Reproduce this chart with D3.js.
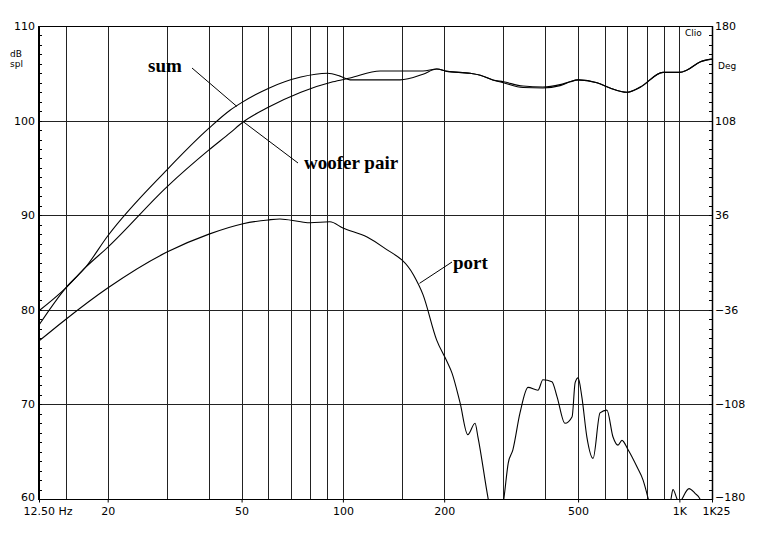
<!DOCTYPE html>
<html>
<head>
  <meta charset="utf-8">
  <title>woofer pair / port / sum</title>
  <style>
    body { margin: 0; background: #fff; }
    .axis text { font-family: "DejaVu Sans", sans-serif; font-size: 11px; fill: #000; }
    .note { font-family: "Liberation Serif", serif; font-weight: bold; font-size: 19px; fill: #000; }
    .small { font-family: "DejaVu Sans", sans-serif; font-size: 9px; fill: #000; }
  </style>
</head>
<body>
<script src="https://d3js.org/d3.v7.min.js"></script>
<script>
  var width = 765;
  var height = 535;
  var x0 = 39, x1 = 712, y0 = 26, y1 = 499;

  // data (Hz, dB spl)
  var freqSum = [12.5, 15, 17.2, 20, 30, 40, 46.2, 50, 60, 75, 90, 98, 105, 118, 148, 173, 190,
                 204, 239, 256, 279, 300, 343, 393, 442, 473, 500, 569, 622, 699, 764, 894, 1000, 1054, 1151, 1250];
  var dbSum = [78.4, 82.3, 84.5, 87.8, 94.8, 99.2, 101.1, 101.9, 103.4, 104.6, 105.0, 104.7, 104.3, 104.3, 104.3, 104.9, 105.45,
               105.2, 105.0, 104.8, 104.3, 104.1, 103.65, 103.55, 103.8, 104.1, 104.3, 104.0, 103.45, 103.0, 103.55, 105.1, 105.1, 105.35, 106.2, 106.5];

  var freqWoofer = [12.5, 15, 17.2, 20, 30, 40, 46.2, 50.5, 60, 75, 93.4, 105, 129, 173, 190,
                    204, 239, 256, 279, 300, 343, 393, 442, 473, 500, 569, 622, 699, 764, 894, 1000, 1054, 1151, 1250];
  var dbWoofer = [79.9, 82.3, 84.5, 86.6, 93.0, 96.9, 98.7, 99.85, 101.4, 103.0, 104.1, 104.5, 105.25, 105.25, 105.45,
                  105.2, 105.0, 104.8, 104.3, 104.0, 103.5, 103.45, 103.7, 104.1, 104.3, 104.0, 103.45, 103.0, 103.5, 105.1, 105.1, 105.35, 106.2, 106.5];

  var freqPort = [12.5, 14.9, 20, 30, 40, 50.5, 60, 65, 75, 80, 91.5, 100, 118, 132, 162, 173, 190,
                  204, 211, 223, 235, 247, 252, 270, 285, 301, 310, 320, 336, 355, 380, 393, 418, 433, 457, 480,
                  490, 500, 513, 531, 554, 581, 609, 635, 657, 675, 704, 748, 780, 807, 856, 944, 957, 984,
                  1000, 1018, 1068, 1113, 1151, 1187, 1250];
  var dbPort = [76.7, 78.9, 82.3, 86.1, 88.0, 89.1, 89.5, 89.6, 89.3, 89.2, 89.3, 88.65, 87.7, 86.6, 83.7, 81.6, 76.8,
                74.5, 73.3, 70.15, 66.8, 68.0, 66.55, 60.1, 56, 60.1, 63.8, 65.2, 69.1, 71.8, 71.5, 72.6, 72.4, 70.8, 68.0, 68.7,
                72.3, 72.8, 70.8, 66.55, 64.3, 69.1, 69.4, 66.55, 65.7, 66.2, 65.2, 63.4, 62.0, 60.1, 56, 60.0, 61.0, 60.0,
                59.5, 60.0, 61.1, 60.6, 60.0, 58, 57];

  var gridFreqs = [15, 20, 30, 40, 50, 60, 70, 80, 90, 100, 150, 200, 300, 400, 500, 600, 700, 800, 900, 1000];
  var gridDb = [70, 80, 90, 100];
  var xTicks = [12.5, 20, 50, 100, 200, 500, 1000, 1250];
  var xLabels = ['12.50 Hz', '20', '50', '100', '200', '500', '1K', '1K25'];
  var yTicks = [60, 70, 80, 90, 100, 110];
  var degTicks = [-180, -108, -36, 36, 108, 180];

  var svg = d3.select('body')
    .append('svg')
      .attr('width', width)
      .attr('height', height);

  var x = d3.scaleLog().domain([12.5, 1250]).range([x0, x1]);
  var y = d3.scaleLinear().domain([60, 110]).range([y1, y0]);
  var yDeg = d3.scaleLinear().domain([-180, 180]).range([y1, y0]);

  // grid
  svg.append('g')
    .attr('transform', 'translate(0,' + y1 + ')')
    .call(d3.axisBottom(x).tickValues(gridFreqs).tickSize(-(y1 - y0)).tickFormat(''))
    .call(function(g) {
      g.select('.domain').remove();
      g.selectAll('line').attr('stroke', '#222').attr('shape-rendering', 'crispEdges');
    });

  svg.append('g')
    .attr('transform', 'translate(' + x0 + ',0)')
    .call(d3.axisRight(y).tickValues(gridDb).tickSize(x1 - x0).tickFormat(''))
    .call(function(g) {
      g.select('.domain').remove();
      g.selectAll('line').attr('stroke', '#222').attr('shape-rendering', 'crispEdges');
    });

  // frame
  svg.append('rect')
    .attr('x', x0 + 0.5).attr('y', y0 + 0.5)
    .attr('width', x1 - x0).attr('height', y1 - y0)
    .attr('fill', 'none').attr('stroke', '#000').attr('shape-rendering', 'crispEdges');

  // minor ticks inside the frame
  svg.append('g')
    .attr('transform', 'translate(' + x0 + ',0)')
    .call(d3.axisRight(y).tickValues(d3.range(60, 110.5, 1)).tickSize(3).tickFormat(''))
    .call(function(g) {
      g.select('.domain').remove();
      g.selectAll('line').attr('stroke', '#000').attr('shape-rendering', 'crispEdges');
    });

  svg.append('g')
    .attr('transform', 'translate(' + x1 + ',0)')
    .call(d3.axisLeft(yDeg).tickValues(d3.range(-180, 180.1, 7.2)).tickSize(3).tickFormat(''))
    .call(function(g) {
      g.select('.domain').remove();
      g.selectAll('line').attr('stroke', '#000').attr('shape-rendering', 'crispEdges');
    });

  // thicker left and right axis lines
  svg.append('line')
    .attr('x1', x0).attr('x2', x0).attr('y1', y0).attr('y2', y1 + 1)
    .attr('stroke', '#000').attr('stroke-width', 2);
  svg.append('line')
    .attr('x1', x1 + 0.5).attr('x2', x1 + 0.5).attr('y1', y0).attr('y2', y1 + 1)
    .attr('stroke', '#000').attr('stroke-width', 1.5);

  // axes with labels
  var xAxis = svg.append('g')
    .attr('class', 'axis')
    .attr('transform', 'translate(0,' + (y1 + 0.5) + ')')
    .call(d3.axisBottom(x).tickValues(xTicks).tickSize(3).tickPadding(5)
      .tickFormat(function(d, i) { return xLabels[i]; }));
  xAxis.select('.domain').remove();
  xAxis.selectAll('text')
    .attr('text-anchor', function(d, i) { return i === 0 ? 'start' : 'middle'; })
    .attr('dx', function(d, i) { return i === 0 ? -16 : (i === xTicks.length - 1 ? 4 : 0); });

  var yAxis = svg.append('g')
    .attr('class', 'axis')
    .attr('transform', 'translate(' + x0 + ',0)')
    .call(d3.axisLeft(y).tickValues(yTicks).tickSize(0).tickPadding(4));
  yAxis.select('.domain').remove();
  yAxis.selectAll('text').filter(function(d) { return d === 60; }).attr('dy', '0.1em');

  var degAxis = svg.append('g')
    .attr('class', 'axis')
    .attr('transform', 'translate(' + x1 + ',0)')
    .call(d3.axisRight(yDeg).tickValues(degTicks).tickSize(0).tickPadding(3));
  degAxis.select('.domain').remove();
  degAxis.selectAll('text').filter(function(d) { return d === -180; }).attr('dy', '0.1em');

  svg.append('text').attr('class', 'small').attr('x', 10).attr('y', 57).text('dB');
  svg.append('text').attr('class', 'small').attr('x', 10).attr('y', 67).text('spl');
  svg.append('text').attr('class', 'small').attr('x', 718).attr('y', 69).text('Deg');
  svg.append('text').attr('class', 'small').attr('x', 685).attr('y', 36).text('Clio');

  // curves
  svg.append('clipPath').attr('id', 'plot')
    .append('rect').attr('x', x0).attr('y', y0).attr('width', x1 - x0).attr('height', y1 - y0);

  var line = d3.line()
    .x(function(d) { return x(d[0]); })
    .y(function(d) { return y(d[1]); })
    .curve(d3.curveMonotoneX);

  var curves = [
    d3.zip(freqSum, dbSum),
    d3.zip(freqWoofer, dbWoofer),
    d3.zip(freqPort, dbPort)
  ];

  svg.append('g')
    .attr('clip-path', 'url(#plot)')
    .selectAll('path')
    .data(curves)
    .enter()
    .append('path')
      .attr('d', line)
      .attr('fill', 'none')
      .attr('stroke', '#000')
      .attr('stroke-width', 1.1);

  // callouts: label position in px, leader end on the curve in data units
  var notes = [
    {text: 'sum', tx: 148, ty: 72, from: [192, 68], to: [48.4, 101.5]},
    {text: 'woofer pair', tx: 304, ty: 169, from: [298, 163], to: [50.5, 99.9]},
    {text: 'port', tx: 453, ty: 269, from: [452, 262], to: [169, 82.8]}
  ];

  notes.forEach(function(n) {
    svg.append('line')
      .attr('x1', n.from[0]).attr('y1', n.from[1])
      .attr('x2', x(n.to[0])).attr('y2', y(n.to[1]))
      .attr('stroke', '#000').attr('stroke-width', 1);
    svg.append('text').attr('class', 'note').attr('x', n.tx).attr('y', n.ty).text(n.text);
  });
</script>
</body>
</html>
